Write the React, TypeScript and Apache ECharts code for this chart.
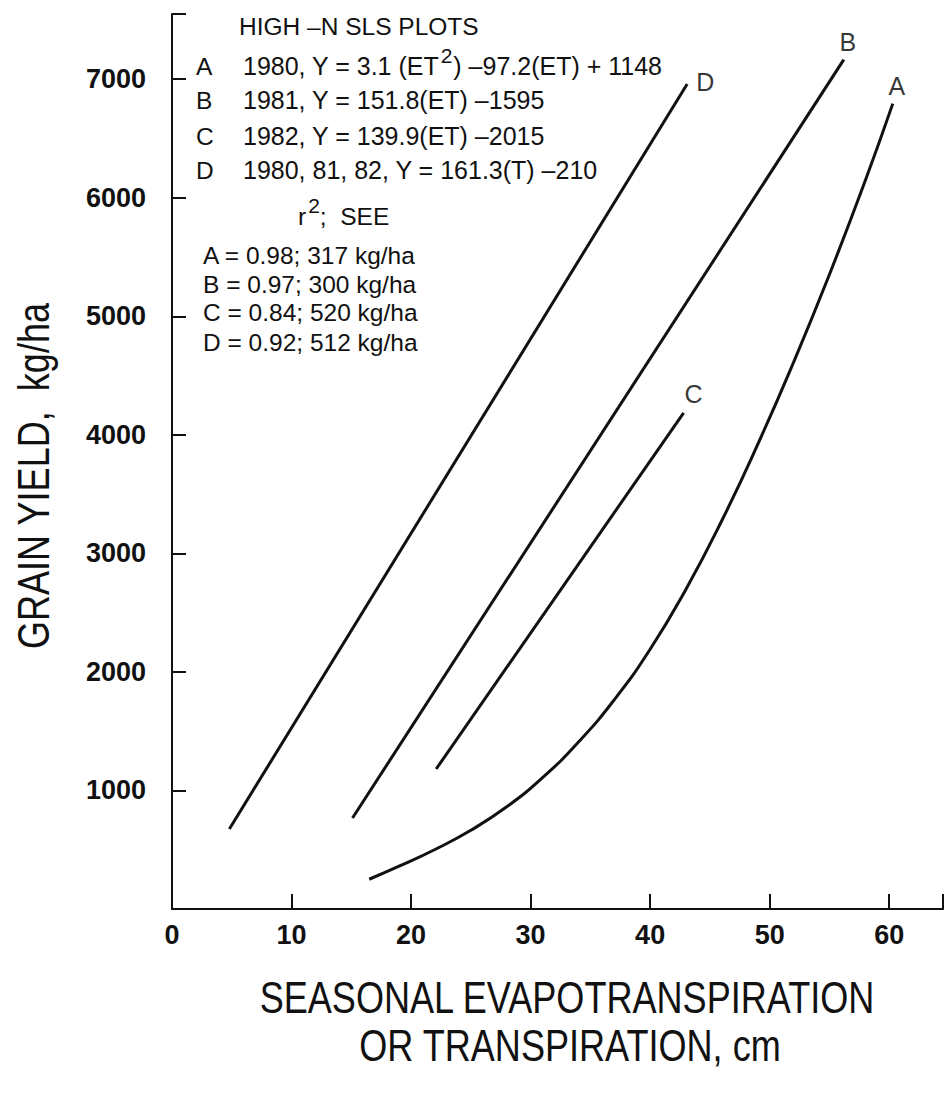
import React, { useEffect, useRef } from "react";
import * as echarts from "echarts";

// ---- data ----
const xTickValues = [0, 10, 20, 30, 40, 50, 60];
const yTickValues = [1000, 2000, 3000, 4000, 5000, 6000, 7000];

// A: 1980 (quadratic)
const curveA_x = [16.5, 19.0, 22.0, 25.0, 28.0, 31.0, 34.0, 37.0, 40.0, 43.0, 46.0, 49.0, 52.0, 55.0, 58.0, 60.3];
const curveA_y = [251, 361, 502, 664, 862, 1108, 1408, 1765, 2191, 2698, 3277, 3919, 4612, 5353, 6145, 6794];
// B: 1981
const lineB_x = [15.1, 56.2];
const lineB_y = [768, 7165];
// C: 1982
const lineC_x = [22.1, 42.8];
const lineC_y = [1181, 4186];
// D: 1980, 81, 82
const lineD_x = [4.8, 43.1];
const lineD_y = [675, 6960];

const curveNames = ["A", "B", "C", "D"];

const headerTitle = "HIGH –N SLS PLOTS";
const headerKeys = ["A", "B", "C", "D"];
// each equation: [before superscript, superscript, after superscript]
const headerEquations: string[][] = [
  ["1980, Y = 3.1 (ET", "2", ") –97.2(ET) + 1148"],
  ["1981, Y = 151.8(ET) –1595", "", ""],
  ["1982, Y = 139.9(ET) –2015", "", ""],
  ["1980, 81, 82, Y = 161.3(T) –210", "", ""],
];
const statsTitle = ["r", "2", ";  SEE"];
const statsLines = [
  "A = 0.98; 317 kg/ha",
  "B = 0.97; 300 kg/ha",
  "C = 0.84; 520 kg/ha",
  "D = 0.92; 512 kg/ha",
];

const xTitle1 = "SEASONAL EVAPOTRANSPIRATION";
const xTitle2 = "OR TRANSPIRATION, cm";
const yTitle = "GRAIN YIELD,  kg/ha";

const zip = (xs: number[], ys: number[]) => xs.map((x, i) => [x, ys[i]]);

export default function App() {
  const ref = useRef<HTMLDivElement>(null);

  useEffect(() => {
    if (!ref.current) return;
    const chart = echarts.init(ref.current, null, { renderer: "svg" });
    const ink = "#111111";
    const sans = "'Liberation Sans', Arial, Helvetica, sans-serif";
    const lineStyle = { color: ink, width: 3 };

    const ctx = document.createElement("canvas").getContext("2d")!;
    const measure = (t: string, font: string) => {
      ctx.font = font;
      return ctx.measureText(t).width;
    };

    const last = (xs: number[], ys: number[]) => [xs[xs.length - 1], ys[ys.length - 1]];

    const mainFont = `25px ${sans}`;
    const supFont = `21px ${sans}`;
    const smallFont = `24.5px ${sans}`;
    const txt = (t: string, x: number, y: number, font: string, extra: any = {}) => ({
      type: "text",
      x,
      y,
      ...extra,
      style: { text: t, font, fill: ink, align: "left", verticalAlign: "middle", ...(extra.style || {}) },
    });

    const headerRowsY = [66, 100, 136, 170];
    const statsRowsY = [255, 284, 312, 342];

    const graphics: any[] = [txt(headerTitle, 239, 26, smallFont)];
    headerKeys.forEach((k, i) => graphics.push(txt(k, 196, headerRowsY[i], smallFont)));
    headerEquations.forEach((parts, i) => {
      const y = headerRowsY[i];
      let x = 243;
      graphics.push(txt(parts[0], x, y, mainFont));
      x += measure(parts[0], mainFont) + 1;
      if (parts[1]) {
        graphics.push(txt(parts[1], x, y - 11, supFont));
        x += measure(parts[1], supFont) + 1;
      }
      if (parts[2]) graphics.push(txt(parts[2], x, y, mainFont));
    });
    {
      const y = 216;
      let x = 298;
      graphics.push(txt(statsTitle[0], x, y, smallFont));
      x += measure(statsTitle[0], smallFont) + 2;
      graphics.push(txt(statsTitle[1], x, y - 11, supFont));
      x += measure(statsTitle[1], supFont);
      graphics.push(txt(statsTitle[2], x, y, smallFont));
    }
    statsLines.forEach((t, i) => graphics.push(txt(t, 203, statsRowsY[i], smallFont)));

    const titleFont = `44px ${sans}`;
    graphics.push(
      txt(xTitle1, 567, 998, titleFont, { scaleX: 0.82, style: { align: "center" } }),
      txt(xTitle2, 570, 1046, titleFont, { scaleX: 0.82, style: { align: "center" } }),
      txt(yTitle, 34, 476, titleFont, { rotation: Math.PI / 2, scaleX: 0.82, style: { align: "center" } })
    );

    const endPoints = [
      { name: "A", value: last(curveA_x, curveA_y), label: { position: "top", offset: [4, 0], formatter: curveNames[0] } },
      { name: "B", value: last(lineB_x, lineB_y), label: { position: "top", offset: [4, 0], formatter: curveNames[1] } },
      { name: "C", value: last(lineC_x, lineC_y), label: { position: "top", offset: [10, -1], formatter: curveNames[2] } },
      { name: "D", value: last(lineD_x, lineD_y), label: { position: "right", offset: [4, -2], formatter: curveNames[3] } },
    ];

    chart.setOption({
      animation: false,
      backgroundColor: "#ffffff",
      grid: { left: 172, top: 14, width: 771, height: 895 },
      xAxis: {
        type: "value",
        min: 0,
        max: 64.5,
        interval: 10,
        axisLine: { show: true, lineStyle: { color: ink, width: 2 } },
        axisTick: { show: true, inside: true, length: 15, lineStyle: { color: ink, width: 2 } },
        splitLine: { show: false },
        axisLabel: {
          margin: 12,
          color: ink,
          fontFamily: sans,
          fontWeight: "bold",
          fontSize: 27,
          formatter: (v: number) => (xTickValues.includes(v) ? String(v) : ""),
        },
      },
      yAxis: {
        type: "value",
        min: 0,
        max: 7550,
        interval: 1000,
        axisLine: { show: true, lineStyle: { color: ink, width: 2 } },
        axisTick: { show: true, inside: true, length: 14, lineStyle: { color: ink, width: 2 } },
        splitLine: { show: false },
        axisLabel: {
          margin: 26,
          color: ink,
          fontFamily: sans,
          fontWeight: "bold",
          fontSize: 27,
          formatter: (v: number) => (yTickValues.includes(v) ? String(v) : ""),
        },
      },
      series: [
        { name: "A", type: "line", data: zip(curveA_x, curveA_y), smooth: 0.5, symbol: "none", lineStyle },
        { name: "B", type: "line", data: zip(lineB_x, lineB_y), symbol: "none", lineStyle },
        { name: "C", type: "line", data: zip(lineC_x, lineC_y), symbol: "none", lineStyle },
        { name: "D", type: "line", data: zip(lineD_x, lineD_y), symbol: "none", lineStyle },
        {
          name: "labels",
          type: "scatter",
          symbolSize: 0,
          data: endPoints,
          label: { show: true, fontFamily: sans, fontSize: 25, color: "#000000", fontWeight: "normal" },
          silent: true,
        },
      ],
      graphic: graphics,
    });

    return () => chart.dispose();
  }, []);

  return (
    <div
      ref={ref}
      style={{ position: "absolute", left: 0, top: 0, width: 947, height: 1093, background: "#fff" }}
    />
  );
}
